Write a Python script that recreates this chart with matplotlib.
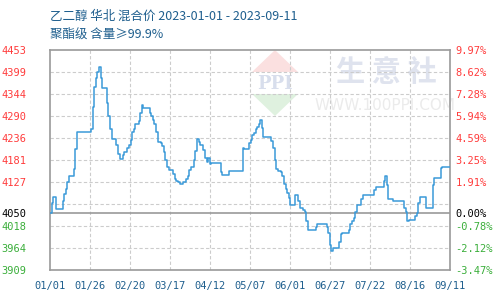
import numpy as np
import matplotlib
matplotlib.use('Agg')
import matplotlib.pyplot as plt
from matplotlib.patches import Polygon

# dados: dias desde 2023-01-01 em que o preço muda, e o preço
dias = [0, 1, 2, 4, 8, 9, 10, 11, 12, 15, 16, 17,
        26, 27, 28, 29, 30, 31, 32, 33,
        36, 37, 38, 39,
        42, 43, 44,
        46, 47,
        49, 50, 51, 52, 53, 54,
        56, 57, 58, 59,
        63, 64, 65, 66, 67, 68,
        70, 71, 72, 73, 74, 75,
        78, 79, 80, 81, 82,
        84, 86, 87, 88, 89, 91, 92, 93, 94, 95,
        97, 98, 99, 100, 101, 102,
        108, 109, 113,
        122, 123,
        126, 127, 128, 129, 130, 131, 132, 133, 134, 135,
        140, 141, 142, 143, 144,
        146, 147, 148, 149,
        150, 151, 152,
        155, 157, 158,
        160, 161, 162, 163,
        168, 169,
        175, 176, 177, 178, 179,
        183, 184, 185,
        189, 190, 191, 192, 193, 194,
        197, 198,
        205, 206,
        211, 212, 213, 214,
        217,
        224, 225, 226, 227,
        231, 232, 233, 234,
        238,
        242, 243,
        247, 248,
        253]
precos = [4049, 4074, 4090, 4060, 4078, 4096, 4109, 4127, 4140, 4159, 4208, 4249,
          4258, 4310, 4360, 4383, 4398, 4410, 4383, 4358,
          4320, 4290, 4257, 4232,
          4218, 4195, 4183,
          4192, 4200,
          4210, 4218, 4230, 4249, 4258, 4268,
          4276, 4296, 4315, 4309,
          4296, 4290, 4280, 4268, 4249, 4226,
          4222, 4214, 4200, 4181, 4162, 4156,
          4146, 4134, 4129, 4125, 4121,
          4127, 4134, 4140, 4156, 4162, 4181, 4203, 4233, 4226, 4218,
          4206, 4185, 4175, 4185, 4170, 4173,
          4151, 4144, 4153,
          4211, 4208,
          4222, 4230, 4241, 4247, 4258, 4263, 4268, 4280, 4260, 4237,
          4228, 4210, 4180, 4159, 4154,
          4150, 4140, 4121, 4109,
          4100, 4086, 4070,
          4093, 4078, 4062,
          4058, 4053, 4029, 4008,
          4014, 4023,
          4016, 4000, 3971, 3956, 3963,
          3979, 3997, 4000,
          4008, 4022, 4029, 4037, 4053, 4070,
          4085, 4093,
          4107, 4115,
          4129, 4140, 4119, 4085,
          4078,
          4062, 4053, 4029, 4033,
          4043, 4050, 4074, 4090,
          4062,
          4119, 4135,
          4160, 4164,
          4164]

y_min, y_max, base = 3909, 4453, 4049.3
rotulos_esq = ['3909', '3964', '4018', '', '4127', '4181', '4236', '4290', '4344', '4399', '4453']
rotulos_dir = ['-3.47%', '-2.12%', '-0.78%', '', '1.91%', '3.25%', '4.59%', '5.94%', '7.28%', '8.62%', '9.97%']
rotulos_x = ['01/01', '01/26', '02/20', '03/17', '04/12', '05/07', '06/01', '06/27', '07/22', '08/16', '09/11']
total_dias = 253

azul = '#3a9ad9'
vermelho = '#ff3b3b'
verde = '#3aae3a'
cinza = '#9a9a9a'
azul_txt = '#1f5f8e'

fig = plt.figure(figsize=(5, 3), dpi=100)

# marca d'agua ao fundo
fundo = fig.add_axes([0, 0, 1, 1], zorder=0)
fundo.set_xlim(0, 500)
fundo.set_ylim(300, 0)
fundo.axis('off')
fundo.add_patch(Polygon([[252, 72], [275, 50], [298, 72]], closed=True, color='#fbe0e0', lw=0))
fundo.add_patch(Polygon([[252, 94], [275, 116], [298, 94]], closed=True, color='#dff1df', lw=0))
fundo.text(275, 84, 'PPI', ha='center', va='center', fontsize=13, color='#d8deec',
           fontweight='bold', family='DejaVu Serif')
fundo.text(386, 72, '生 意 社', ha='center', va='center', fontsize=21, color='#dfe3ee',
           fontweight='bold', family=['Noto Sans CJK SC', 'DejaVu Sans'])
fundo.text(385, 105, 'WWW.100PPI.COM', ha='center', va='center', fontsize=11, color='#ebebeb')

ax = fig.add_axes([0.1, 0.1, 0.8, 0.735], zorder=1)
ax.set_facecolor('none')

ax.plot(dias, precos, drawstyle='steps-post', color=azul, lw=1.1, zorder=3)
ax.axhline(base, color=cinza, lw=1.2, zorder=2)

ax.set_xlim(0, total_dias)
ax.set_ylim(y_min, y_max)

pos_y = np.linspace(y_min, y_max, 11)
pos_x = np.linspace(0, total_dias, 11)

for v in pos_y[1:-1]:
    ax.axhline(v, color='#cccccc', lw=0.8, ls=(0, (3, 2)), zorder=1)
for v in pos_x[1:-1]:
    ax.axvline(v, color='#cccccc', lw=0.8, ls=(0, (3, 2)), zorder=1)

for s in ax.spines.values():
    s.set_color(cinza)
    s.set_linewidth(1.2)

fonte = 'DejaVu Sans Mono'
ax.set_yticks(list(pos_y) + [base])
ax.set_yticklabels(rotulos_esq + ['4050'], family=fonte, fontsize=7.5)
for i, t in enumerate(ax.get_yticklabels()):
    if i == len(pos_y):
        t.set_color('black')
    elif pos_y[i] > base:
        t.set_color(vermelho)
    else:
        t.set_color(verde)
ax.tick_params(axis='y', length=0, pad=17)

ax.set_xticks(pos_x)
ax.set_xticklabels(rotulos_x, family=fonte, fontsize=7.5, color=azul_txt)
ax.tick_params(axis='x', length=0, pad=8)

ax2 = ax.twinx()
ax2.set_zorder(1)
ax2.set_ylim(y_min, y_max)
ax2.set_yticks(list(pos_y) + [base])
ax2.set_yticklabels(rotulos_dir + ['0.00%'], family=fonte, fontsize=7.5)
for i, t in enumerate(ax2.get_yticklabels()):
    if i == len(pos_y):
        t.set_color('black')
    elif pos_y[i] > base:
        t.set_color(vermelho)
    else:
        t.set_color(verde)
ax2.tick_params(axis='y', length=0, pad=4)
for s in ax2.spines.values():
    s.set_visible(False)

fonte_cjk = ['Noto Sans CJK SC', 'DejaVu Sans']
fig.text(0.1, 1 - 16 / 300, '乙二醇 华北 混合价 2023-01-01 - 2023-09-11', family=fonte_cjk,
         fontsize=9, color=azul_txt, va='center', ha='left')
fig.text(0.1, 1 - 34 / 300, '聚酯级 含量≥99.9%', family=fonte_cjk,
         fontsize=9, color=azul_txt, va='center', ha='left')

fig.savefig('out.png', dpi=100)
